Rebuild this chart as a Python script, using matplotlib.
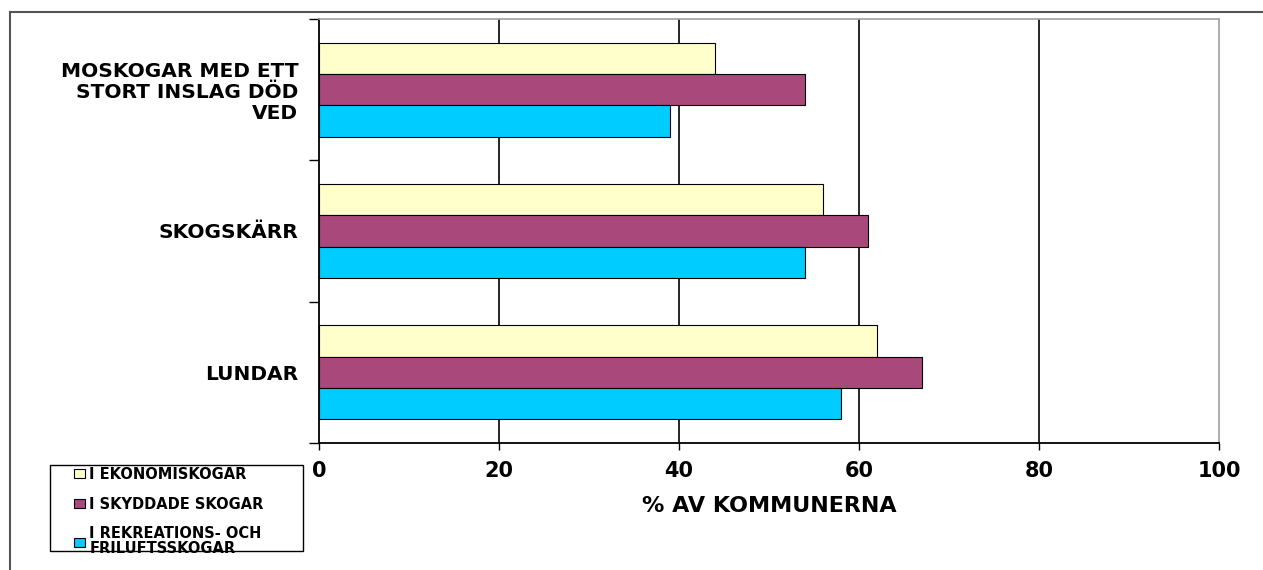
import matplotlib
matplotlib.use("Agg")
from matplotlib import pyplot as plt
from matplotlib.lines import Line2D
from matplotlib.patches import Rectangle
from matplotlib.font_manager import FontProperties
import numpy as np

categories = ["MOSKOGAR MED ETT\nSTORT INSLAG DÖD\nVED", "SKOGSKÄRR", "LUNDAR"]
series_names = ["I EKONOMISKOGAR", "I SKYDDADE SKOGAR", "I REKREATIONS- OCH\nFRILUFTSSKOGAR"]
ekonomi = [44, 56, 62]
skyddade = [54, 61, 67]
rekreation = [39, 54, 58]
x_ticks = [0, 20, 40, 60, 80, 100]

colors = ["#FFFFCC", "#A9487A", "#00CCFF"]
font = ["DejaVu Sans"]
W, H = 1263, 570

fig = plt.figure(figsize=(12.63, 5.70), dpi=100)
ax = fig.add_axes([319 / W, 1 - 443 / H, 900 / W, 424 / H])

pos = np.arange(len(categories))
h = 0.222
for k, vals in enumerate([ekonomi, skyddade, rekreation]):
    ax.barh(pos + (k - 1) * h, vals, height=h, color=colors[k],
            edgecolor="black", linewidth=0.8, label=series_names[k], zorder=3)

ax.set_xlim(0, 100)
ax.set_ylim(2.5, -0.5)

# grid lines
for v in x_ticks[1:-1]:
    ax.axvline(v, color="black", linewidth=1.2, zorder=1)

ax.set_xticks(x_ticks)
ax.set_xticklabels([str(v) for v in x_ticks], fontfamily=font,
                   fontweight="bold", fontsize=15)
ax.tick_params(axis="x", direction="out", length=5, width=1, pad=8)

ax.set_yticks([-0.5, 0.5, 1.5, 2.5])
ax.set_yticklabels([])
ax.tick_params(axis="y", which="major", direction="out", length=7, width=1)
ax.set_yticks(pos, minor=True)
ax.set_yticklabels(categories, minor=True, fontfamily=font,
                   fontweight="bold", fontsize=14.5, linespacing=1.13)
ax.tick_params(axis="y", which="minor", length=0, pad=15)

ax.set_xlabel("% AV KOMMUNERNA", fontfamily=font, fontweight="bold",
              fontsize=16, labelpad=11)

for s in ["top", "right"]:
    ax.spines[s].set_color("#A0A0A0")
    ax.spines[s].set_linewidth(1.2)
for s in ["left", "bottom"]:
    ax.spines[s].set_color("black")
    ax.spines[s].set_linewidth(1.3)

# outer frame lines
fig.add_artist(Line2D([10 / W, 1], [1 - 12 / H] * 2, color="#555555", linewidth=1.5))
fig.add_artist(Line2D([10 / W] * 2, [0, 1 - 12 / H], color="#555555", linewidth=1.5))

# legend box drawn separately so the padding can be wider on the left
fig.add_artist(Rectangle((50 / W, 1 - 551 / H), 253 / W, 86 / H, transform=fig.transFigure,
                         facecolor="white", edgecolor="black", linewidth=1.0, zorder=2))
leg_font = FontProperties(family="DejaVu Sans", weight="bold", size=10.5)
leg = fig.legend(loc="upper left", bbox_to_anchor=(74 / W, 1 - 467 / H),
                 prop=leg_font, frameon=False, handlelength=0.75, handleheight=0.6,
                 handletextpad=0.3, labelspacing=1.0, borderpad=0,
                 borderaxespad=0)
for t in leg.get_texts():
    t.set_linespacing(1.02)
leg.set_zorder(3)

fig.savefig("out.png", dpi=100)
